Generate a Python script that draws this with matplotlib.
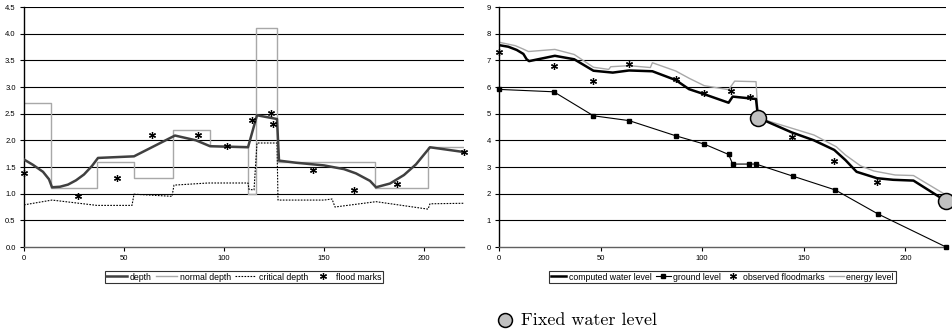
import matplotlib
matplotlib.use("Agg")
import matplotlib.pyplot as plt
from matplotlib.lines import Line2D

plt.rcParams['font.family'] = ['Liberation Sans', 'DejaVu Sans']

# ---- left panel: depths along the river (distance in m) ----
depth_x = [0, 4.5, 9.5, 12.5, 14, 18, 22, 26, 30, 34, 37, 55, 75.5, 86, 93, 112, 116.5, 126.5, 127.5,
           136, 150, 160, 166, 170, 173, 176, 183, 190, 196, 203, 220]
depth_y = [1.64, 1.54, 1.41, 1.27, 1.12, 1.13, 1.17, 1.25, 1.36, 1.52, 1.67, 1.70, 2.09, 2.0, 1.89, 1.87, 2.47, 2.40, 1.62,
           1.58, 1.53, 1.46, 1.38, 1.30, 1.24, 1.12, 1.19, 1.35, 1.55, 1.87, 1.78]

# normal depth per reach (reach boundaries + value)
reach_edges = [0, 13.5, 36.5, 55, 74.5, 93, 112, 116, 126.5, 175.5, 202, 220]
normal_depth = [2.7, 1.1, 1.6, 1.3, 2.2, 1.9, 1.0, 4.1, 1.6, 1.1, 1.87]

crit_x = [0, 14, 36.5, 54, 55, 74, 75, 92, 112, 112.5, 115, 116.5, 126.5, 127, 150, 154, 155.5, 176, 202, 203, 220]
crit_y = [0.79, 0.88, 0.78, 0.78, 0.99, 0.95, 1.16, 1.2, 1.2, 1.08, 1.07, 1.95, 1.95, 0.88, 0.88, 0.9, 0.75, 0.85, 0.71, 0.81, 0.82]

flood_x = [0, 27, 46.5, 64, 87, 101.5, 114, 123.5, 124.5, 144.5, 165, 186.5, 220]
flood_depth = [1.39, 0.95, 1.30, 2.10, 2.10, 1.90, 2.38, 2.52, 2.30, 1.44, 1.07, 1.18, 1.78]

# ---- right panel: levels ----
water_x = [0, 4.6, 8.7, 12, 13.6, 14.8, 27.5, 37, 46.5, 56, 64, 75.5, 87, 93.5, 101, 113, 115, 126.5, 127.5,
           144, 155, 165, 170.5, 176, 186, 194, 204, 220]
water_y = [7.57, 7.51, 7.39, 7.24, 7.04, 6.97, 7.17, 7.04, 6.61, 6.54, 6.62, 6.59, 6.26, 5.92, 5.73, 5.41, 5.64, 5.55, 4.85,
           4.3, 4.0, 3.64, 3.26, 2.82, 2.58, 2.52, 2.49, 1.72]

energy_x = [0, 8, 12, 14.5, 27.5, 37, 46.5, 54, 55, 64, 74.5, 75.5, 87, 93.5, 101, 113, 116, 126.5, 127.5,
            131, 155, 166, 170.5, 178, 184.5, 195, 204, 220]
energy_y = [7.68, 7.55, 7.42, 7.33, 7.41, 7.22, 6.74, 6.66, 6.76, 6.80, 6.73, 6.91, 6.6, 6.33, 6.05, 5.9, 6.22, 6.2, 4.95,
            4.76, 4.2, 3.76, 3.45, 3.04, 2.85, 2.7, 2.68, 1.95]

ground_x = [0, 27, 46.5, 64, 87, 101, 113, 115, 123, 126.5, 144.5, 165.5, 186.5, 220]
ground_y = [5.91, 5.82, 4.92, 4.74, 4.17, 3.86, 3.47, 3.11, 3.11, 3.11, 2.66, 2.14, 1.24, 0.0]

obs_x = [0, 27, 46.5, 64, 87, 101, 114, 123.5, 144, 165, 186, 220]
obs_y = [7.32, 6.79, 6.24, 6.86, 6.3, 5.76, 5.86, 5.64, 4.14, 3.22, 2.43, 1.78]

fixed_x = [127.5, 220]
fixed_y = [4.85, 1.72]

star = (6, 2, 0)
fixed_style = dict(marker='o', markersize=11.5, markerfacecolor='#c0c0c0',
                   markeredgecolor='black', markeredgewidth=1.1, linestyle='none')

fig = plt.figure(figsize=(9.52, 3.33), dpi=100)
ax1 = fig.add_axes([24 / 952, 86 / 333, 440 / 952, 240 / 333])
ax2 = fig.add_axes([499 / 952, 86 / 333, 447 / 952, 240 / 333])


def style_axis(ax, ymax, step, fmt):
    ax.set_xlim(0, 220)
    ax.set_ylim(0, ymax)
    ax.set_xticks([0, 50, 100, 150, 200])
    ticks = [i * step for i in range(int(round(ymax / step)) + 1)]
    ax.set_yticks(ticks)
    ax.set_yticklabels([fmt.format(t) for t in ticks])
    for t in ticks[1:]:
        ax.axhline(t, color='black', lw=0.8, zorder=0)
    ax.spines['top'].set_visible(False)
    ax.spines['right'].set_visible(False)
    ax.spines['left'].set_linewidth(1.0)
    ax.spines['bottom'].set_color('#606060')
    ax.spines['bottom'].set_linewidth(1.0)
    ax.tick_params(labelsize=5.5, length=3, width=0.8, pad=3, colors='black')


# left
nd_x, nd_y = [], []
for i, v in enumerate(normal_depth):
    nd_x += [reach_edges[i], reach_edges[i + 1]]
    nd_y += [v, v]

ax1.plot(nd_x, nd_y, color='#a8a8a8', lw=1.0, label='normal depth', zorder=2)
ax1.plot(crit_x, crit_y, color='black', lw=0.8, linestyle=(0, (1.5, 1.2)), label='critical depth', zorder=3)
ax1.plot(depth_x, depth_y, color='#404040', lw=1.8, label='depth', zorder=4)
ax1.plot(flood_x, flood_depth, linestyle='none', marker=star, markersize=5, color='black',
         markeredgewidth=0.9, label='flood marks', zorder=5, clip_on=False)
style_axis(ax1, 4.5, 0.5, '{:.1f}')

h1, l1 = ax1.get_legend_handles_labels()
order1 = ['depth', 'normal depth', 'critical depth', 'flood marks']
handles1 = [h1[l1.index(n)] for n in order1]
leg1 = fig.legend(handles1, order1, loc='center', bbox_to_anchor=(244 / 952, 1 - 277 / 333), ncol=4,
                  fontsize=6.3, frameon=True, fancybox=False, edgecolor='black', handlelength=2.4,
                  handletextpad=0.3, columnspacing=0.5, borderpad=0.2, borderaxespad=0)
leg1.get_frame().set_linewidth(0.8)

# right
ax2.plot(energy_x, energy_y, color='#a8a8a8', lw=1.0, label='energy level', zorder=2)
ax2.plot(ground_x, ground_y, color='black', lw=0.8, marker='s', markersize=3.5, label='ground level',
         zorder=3, clip_on=False)
ax2.plot(water_x, water_y, color='black', lw=1.8, label='computed water level', zorder=4)
ax2.plot(obs_x, obs_y, linestyle='none', marker=star, markersize=5, color='black',
         markeredgewidth=0.9, label='observed floodmarks', zorder=5, clip_on=False)
ax2.plot(fixed_x, fixed_y, zorder=6, clip_on=False, **fixed_style)
style_axis(ax2, 9, 1, '{:.0f}')

h2, l2 = ax2.get_legend_handles_labels()
order2 = ['computed water level', 'ground level', 'observed floodmarks', 'energy level']
handles2 = [h2[l2.index(n)] for n in order2]
leg2 = fig.legend(handles2, order2, loc='center', bbox_to_anchor=(722.5 / 952, 1 - 277 / 333), ncol=4,
                  fontsize=6.3, frameon=True, fancybox=False, edgecolor='black', handlelength=1.7,
                  handletextpad=0.3, columnspacing=0.5, borderpad=0.2, borderaxespad=0)
leg2.get_frame().set_linewidth(0.8)

# note under the charts
fig.add_artist(Line2D([505 / 952], [1 - 320 / 333], transform=fig.transFigure, **dict(fixed_style, markersize=10)))
fig.text(521 / 952, 1 - 325 / 333, 'Fixed water level', fontname='cmr10', fontsize=13, va='baseline')

fig.savefig('out.png', dpi=100)
